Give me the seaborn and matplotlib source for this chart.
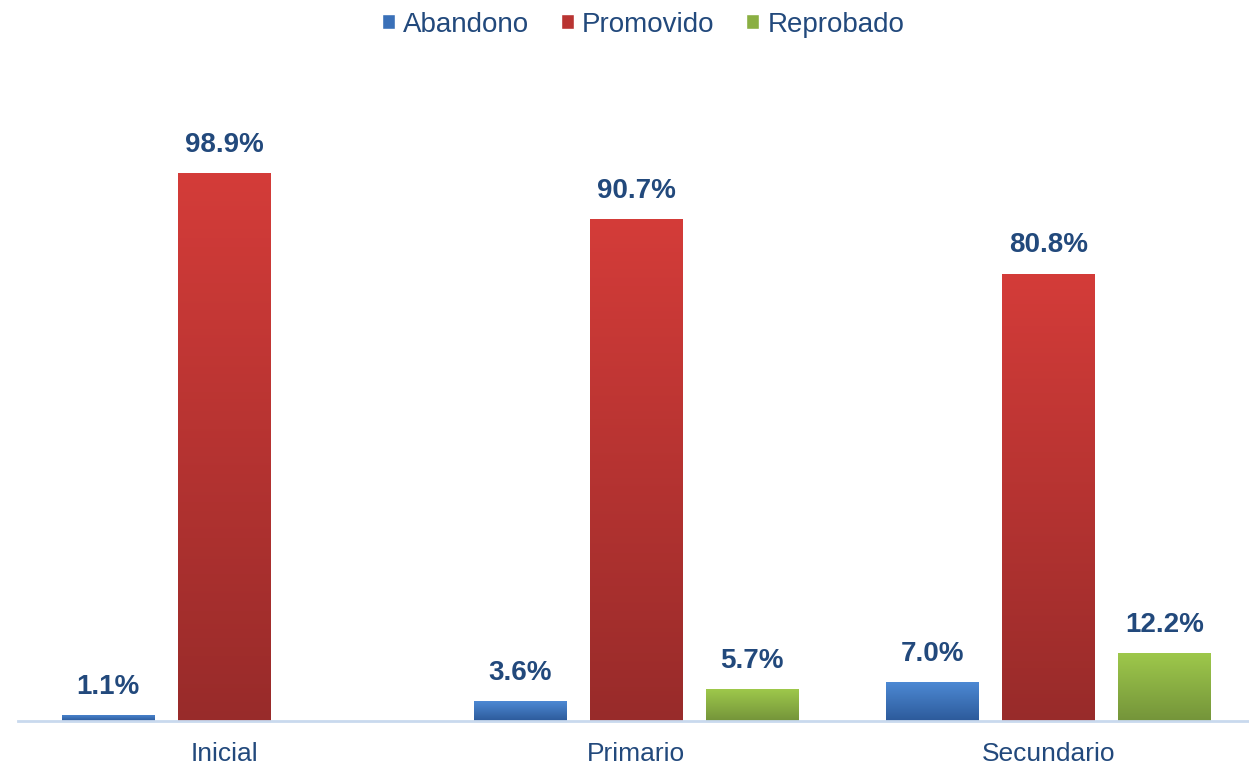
import numpy as np
import pandas as pd
import seaborn as sns
import matplotlib.pyplot as plt
from matplotlib.patches import Patch
from matplotlib.colors import LinearSegmentedColormap

# Data
niveles = ["Inicial", "Primario", "Secundario"]
estados = ["Abandono", "Promovido", "Reprobado"]
abandono = [1.1, 3.6, 7.0]
promovido = [98.9, 90.7, 80.8]
reprobado = [0.0, 5.7, 12.2]

# top / bottom colours of the gradient for each series
colores_top = ["#4D89D4", "#D43C39", "#9EC84B"]
colores_bot = ["#2C5A9A", "#982B2A", "#74943A"]
colores_mid = ["#3A70B8", "#B93432", "#8AAF42"]

df = pd.DataFrame({
    "Nivel": np.repeat(niveles, 3),
    "Estado": estados * 3,
    "Valor": [v for trio in zip(abandono, promovido, reprobado) for v in trio],
})

sns.set_style("white")
plt.rcParams["font.family"] = ["Liberation Sans", "DejaVu Sans"]

fig = plt.figure(figsize=(12.49, 7.70), dpi=100)
ax = fig.add_axes([0.0144, 0.0636, 0.99, 0.791])

sns.barplot(data=df, x="Nivel", y="Valor", hue="Estado", hue_order=estados,
            order=niveles, palette=colores_mid, width=0.845, gap=0.2,
            legend=False, ax=ax)

# vertical gradient on each bar, clipped to the bar patch
grad = np.linspace(1, 0, 256).reshape(-1, 1)
for i, cont in enumerate(ax.containers):
    cmap = LinearSegmentedColormap.from_list(
        f"g{i}", [colores_bot[i], colores_top[i]])
    for bar in cont:
        h = bar.get_height()
        if not h > 0:
            continue
        x0, w = bar.get_x(), bar.get_width()
        bar.set_facecolor("none")
        bar.set_edgecolor("none")
        im = ax.imshow(grad, cmap=cmap, aspect="auto", extent=[x0, x0 + w, 0, h],
                       zorder=bar.get_zorder())
        im.set_clip_path(bar)
    labels = [f"{v:.1f}%" if v > 0 else "" for v in cont.datavalues]
    ax.bar_label(cont, labels=labels, padding=11, fontsize=20,
                 fontweight="bold", color="#22497C")

ax.set_xlim(-0.5, 2.5)
ax.set_ylim(0, 110)
ax.set_xlabel("")
ax.set_ylabel("")
ax.set_yticks([])
ax.tick_params(axis="x", length=0, pad=15, labelsize=19, labelcolor="#22497C")
for side in ["top", "left", "right"]:
    ax.spines[side].set_visible(False)
ax.spines["bottom"].set_color("#C9D9EE")
ax.spines["bottom"].set_linewidth(2)

handles = [Patch(facecolor=c) for c in colores_mid]
fig.legend(handles, estados, loc="center", bbox_to_anchor=(0.515, 0.968), ncol=3,
           frameon=False, fontsize=20, labelcolor="#22497C",
           handlelength=0.45, handleheight=0.45, handletextpad=0.3,
           columnspacing=1.15)

fig.savefig("out.png", dpi=100)
